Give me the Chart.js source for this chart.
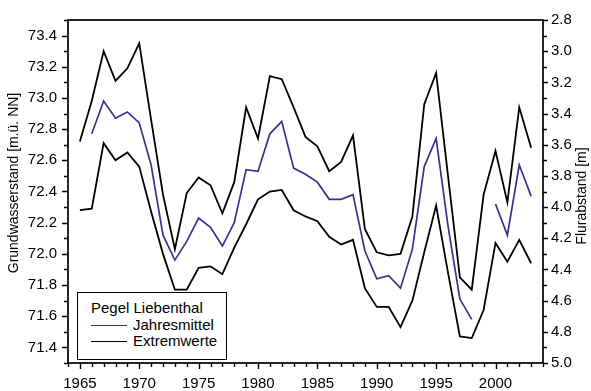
<!DOCTYPE html>
<html>
<head>
<meta charset="utf-8">
<script src="https://cdn.jsdelivr.net/npm/chart.js@4"></script>
<style>
  body { margin: 0; background: #fff; }
  #wrap { position: relative; width: 591px; height: 391px; }
  #legend {
    position: absolute; left: 77px; top: 292px; width: 150px; height: 68px;
    border: 1.6px solid #000; background: #fff; box-sizing: border-box;
    font: 15px Arial, "Liberation Sans", sans-serif; color: #000;
  }
  #legend span { position: absolute; white-space: nowrap; line-height: 16px; }
  #legend i { position: absolute; height: 0; width: 36px; }
</style>
</head>
<body>
<div id="wrap">
  <canvas id="chart" width="591" height="391"></canvas>
  <div id="legend">
    <span style="left:13px; top:7px;">Pegel Liebenthal</span>
    <i style="left:13px; top:32px; border-top:1.7px solid #3f2e91;"></i>
    <span style="left:55px; top:24px;">Jahresmittel</span>
    <i style="left:13px; top:48px; border-top:1.7px solid #000;"></i>
    <span style="left:55px; top:40px;">Extremwerte</span>
  </div>
</div>
<script>
// Pegel Liebenthal, Grundwasserstand [m ü. NN]
const years = [1965, 1966, 1967, 1968, 1969, 1970, 1971, 1972, 1973, 1974,
  1975, 1976, 1977, 1978, 1979, 1980, 1981, 1982, 1983, 1984,
  1985, 1986, 1987, 1988, 1989, 1990, 1991, 1992, 1993, 1994,
  1995, 1996, 1997, 1998, 1999, 2000, 2001, 2002, 2003];

const jahresmittel = [null, 72.77, 72.98, 72.87, 72.91, 72.84, 72.57, 72.12, 71.96, 72.08,
  72.23, 72.17, 72.05, 72.20, 72.54, 72.53, 72.77, 72.85, 72.55, 72.51,
  72.46, 72.35, 72.35, 72.38, 72.02, 71.84, 71.86, 71.78, 72.03, 72.56,
  72.74, 72.18, 71.71, 71.58, null, 72.32, 72.12, 72.57, 72.37];

const maxWerte = [72.72, 72.98, 73.30, 73.11, 73.19, 73.35, 72.86, 72.38, 72.03, 72.39,
  72.49, 72.44, 72.26, 72.46, 72.94, 72.74, 73.14, 73.12, 72.94, 72.75,
  72.69, 72.53, 72.59, 72.76, 72.16, 72.01, 71.99, 72.00, 72.24, 72.96,
  73.16, 72.50, 71.85, 71.77, 72.38, 72.66, 72.33, 72.94, 72.68];

const minWerte = [72.28, 72.29, 72.71, 72.60, 72.65, 72.56, 72.27, 72.00, 71.77, 71.77,
  71.91, 71.92, 71.87, 72.04, 72.19, 72.35, 72.40, 72.41, 72.28, 72.24,
  72.21, 72.11, 72.06, 72.09, 71.78, 71.66, 71.66, 71.53, 71.70, 72.01,
  72.31, 71.88, 71.47, 71.46, 71.64, 72.07, 71.95, 72.09, 71.94];

const xTicks = [1965, 1970, 1975, 1980, 1985, 1990, 1995, 2000];
const yTicks = [71.4, 71.6, 71.8, 72.0, 72.2, 72.4, 72.6, 72.8, 73.0, 73.2, 73.4];
const y2Ticks = [2.8, 3.0, 3.2, 3.4, 3.6, 3.8, 4.0, 4.2, 4.4, 4.6, 4.8, 5.0];

const FONT = 'Arial, "Liberation Sans", sans-serif';
Chart.defaults.font.family = FONT;
Chart.defaults.font.size = 15;
Chart.defaults.color = "#000";

const toPoints = (arr) => years.map((yr, i) => ({ x: yr, y: arr[i] }));

// frame, tick marks (major + minor) and axis titles
const axisDecor = {
  id: "axisDecor",
  afterDraw(chart) {
    const { ctx, chartArea: a, scales } = chart;
    ctx.save();
    ctx.strokeStyle = "#000";
    ctx.lineWidth = 1.7;
    ctx.strokeRect(a.left, a.top, a.right - a.left, a.bottom - a.top);

    ctx.lineWidth = 1.4;
    ctx.beginPath();
    for (let yr = 1964; yr <= 2004; yr++) {
      const x = Math.round(scales.x.getPixelForValue(yr)) + 0.5;
      const len = yr % 5 === 0 ? 6 : 4;
      ctx.moveTo(x, a.bottom);
      ctx.lineTo(x, a.bottom + len);
    }
    for (let i = 713; i <= 735; i++) {
      const y = Math.round(scales.y.getPixelForValue(i / 10)) + 0.5;
      const len = i % 2 === 0 ? 6 : 4;
      ctx.moveTo(a.left, y);
      ctx.lineTo(a.left - len, y);
    }
    for (let i = 28; i <= 50; i++) {
      const y = Math.round(scales.y2.getPixelForValue(i / 10)) + 0.5;
      const len = i % 2 === 0 ? 5 : 4;
      ctx.moveTo(a.right, y);
      ctx.lineTo(a.right + len, y);
    }
    ctx.stroke();

    ctx.fillStyle = "#000";
    ctx.font = "14px " + FONT;
    ctx.textAlign = "center";
    ctx.textBaseline = "middle";
    ctx.save();
    ctx.translate(14, 183);
    ctx.rotate(-Math.PI / 2);
    ctx.fillText("Grundwasserstand [m.ü. NN]", 0, 0);
    ctx.restore();
    ctx.save();
    ctx.translate(582, 196);
    ctx.rotate(-Math.PI / 2);
    ctx.fillText("Flurabstand [m]", 0, 0);
    ctx.restore();
    ctx.restore();
  }
};

new Chart(document.getElementById("chart").getContext("2d"), {
  type: "line",
  data: {
    datasets: [
      {
        label: "Extremwerte (max)",
        data: toPoints(maxWerte),
        borderColor: "#000",
        borderWidth: 1.8
      },
      {
        label: "Extremwerte (min)",
        data: toPoints(minWerte),
        borderColor: "#000",
        borderWidth: 1.8
      },
      {
        label: "Jahresmittel",
        data: toPoints(jahresmittel),
        borderColor: "#3f2e91",
        borderWidth: 1.7
      }
    ]
  },
  options: {
    responsive: false,
    animation: false,
    spanGaps: false,
    elements: {
      point: { radius: 0 },
      line: { tension: 0, fill: false }
    },
    layout: { padding: { top: 15 } },
    plugins: {
      legend: { display: false },
      tooltip: { enabled: false }
    },
    scales: {
      x: {
        type: "linear",
        position: "bottom",
        min: 1964,
        max: 2004,
        afterBuildTicks: (scale) => { scale.ticks = xTicks.map((v) => ({ value: v })); },
        afterFit: (scale) => { scale.height = 28; },
        ticks: { padding: 12, maxRotation: 0, callback: (v) => String(v) },
        grid: { display: false, drawTicks: false },
        border: { display: false }
      },
      y: {
        position: "left",
        min: 71.3,
        max: 73.5,
        afterBuildTicks: (scale) => { scale.ticks = yTicks.map((v) => ({ value: v })); },
        afterFit: (scale) => { scale.width = 68; },
        ticks: { padding: 11, callback: (v) => v.toFixed(1) },
        grid: { display: false, drawTicks: false },
        border: { display: false }
      },
      y2: {
        position: "right",
        min: 2.8,
        max: 5.0,
        reverse: true,
        afterBuildTicks: (scale) => { scale.ticks = y2Ticks.map((v) => ({ value: v })); },
        afterFit: (scale) => { scale.width = 48; },
        ticks: { padding: 8, callback: (v) => v.toFixed(1) },
        grid: { display: false, drawTicks: false },
        border: { display: false }
      }
    }
  },
  plugins: [axisDecor]
});
</script>
</body>
</html>
